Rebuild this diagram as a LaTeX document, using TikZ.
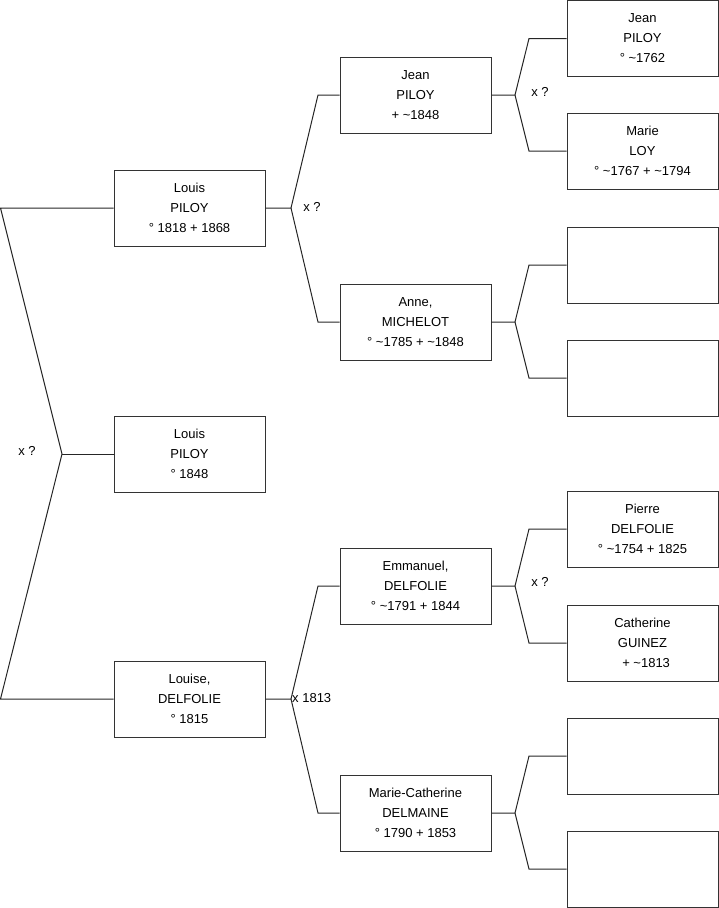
\documentclass[tikz,border=0pt]{standalone}
\usepackage{fontspec}
\setmainfont{Liberation Sans}
\begin{document}
\begin{tikzpicture}[x=1pt,y=-1pt,
  person/.style={draw=black!80,line width=1pt,rectangle,minimum width=151pt,minimum height=76pt,inner sep=0pt,
    align=center,font=\fontsize{13}{20}\selectfont},
  link/.style={draw=black!85,line width=1pt},
  lbl/.style={font=\fontsize{13}{14}\selectfont,inner sep=0pt}]
\useasboundingbox (0,0) rectangle (719,908);
% left column
\node[person] (l1) at (189.5,208) {Louis\\PILOY\\° 1818 + 1868};
\node[person] (l2) at (189.5,454) {Louis\\PILOY\\° 1848};
\node[person] (l3) at (189.5,699) {Louise,\\DELFOLIE\\° 1815};
% middle column
\node[person] (m1) at (415.5,95) {Jean\\PILOY\\+ \textasciitilde1848};
\node[person] (m2) at (415.5,322) {Anne,\\MICHELOT\\° \textasciitilde1785 + \textasciitilde1848};
\node[person] (m3) at (415.5,586) {Emmanuel,\\DELFOLIE\\° \textasciitilde1791 + 1844};
\node[person] (m4) at (415.5,813) {Marie-Catherine\\DELMAINE\\° 1790 + 1853};
% right column
\node[person] (r1) at (642.5,38.5) {Jean\\PILOY\\° \textasciitilde1762};
\node[person] (r2) at (642.5,151) {Marie\\LOY\\° \textasciitilde1767 + \textasciitilde1794};
\node[person] (r3) at (642.5,265) {};
\node[person] (r4) at (642.5,378) {};
\node[person] (r5) at (642.5,529) {Pierre\\DELFOLIE\\° \textasciitilde1754 + 1825};
\node[person] (r6) at (642.5,643) {Catherine\\GUINEZ\\\ \ + \textasciitilde1813};
\node[person] (r7) at (642.5,756) {};
\node[person] (r8) at (642.5,869) {};
% root fork
\coordinate (f0) at (62,454);
\coordinate (a0) at (0.5,208);
\coordinate (b0) at (0.5,699);
\draw[link] (l1.west) -- (a0) -- (f0) -- (b0) -- (l3.west);
\draw[link] (f0) -- (l2.west);
\node[lbl] (x0) at (27,451) {x ?};
% generic forks
\foreach \s/\f/\t/\b/\fx/\bx in {l1/f1/m1/m2/291/318, l3/f2/m3/m4/291/318, m1/f3/r1/r2/515/529, m2/f4/r3/r4/515/529, m3/f5/r5/r6/515/529, m4/f6/r7/r8/515/529}{
  \coordinate (\f) at (\fx,0 |- \s.east);
  \coordinate (\f t) at (\bx,0 |- \t.west);
  \coordinate (\f b) at (\bx,0 |- \b.west);
  \draw[link] (\s.east) -- (\f) -- (\f t) -- (\t.west);
  \draw[link] (\f) -- (\f b) -- (\b.west);
}
\node[lbl] (x1) at (312,207) {x ?};
\node[lbl,anchor=west] (x2) at (292,698) {x 1813};
\node[lbl] (x3) at (540,92) {x ?};
\node[lbl] (x5) at (540,582) {x ?};
\end{tikzpicture}
\end{document}
